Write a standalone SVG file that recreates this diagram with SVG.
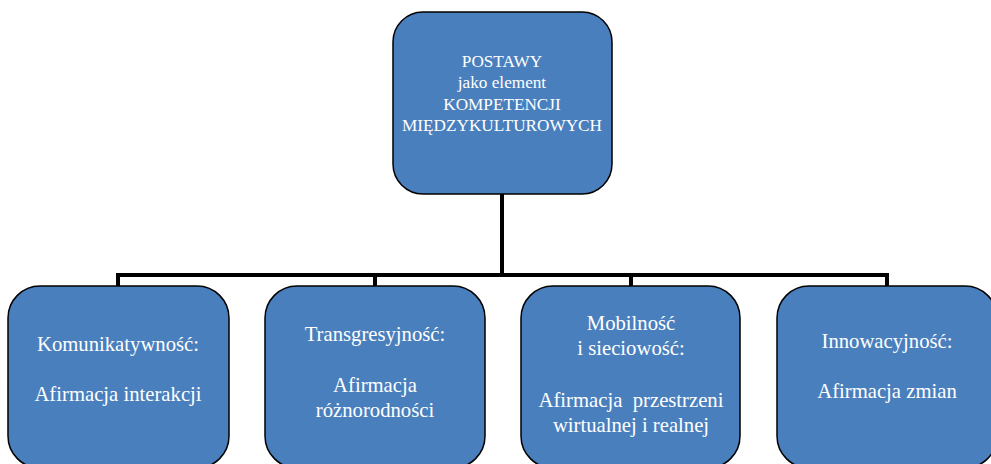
<svg xmlns="http://www.w3.org/2000/svg" width="991" height="464" viewBox="0 0 991 464">
<style>
.box{fill:#4a7fbd;stroke:#000;stroke-width:1.5}
.t{font-family:"Liberation Serif","Times New Roman",serif;fill:#fff;text-anchor:middle;font-size:20.7px}
.tt{font-size:17.2px}
.c{stroke:#000;stroke-width:4;fill:none}
</style>
<rect width="991" height="464" fill="#fff"/>
<g id="connectors">
<line class="c" x1="502" y1="194" x2="502" y2="275"/>
<line class="c" x1="116" y1="275" x2="889" y2="275"/>
<line class="c" x1="118" y1="273" x2="118" y2="287"/>
<line class="c" x1="375" y1="275" x2="375" y2="287"/>
<line class="c" x1="631" y1="275" x2="631" y2="287"/>
<line class="c" x1="887" y1="273" x2="887" y2="287"/>
</g>
<g id="top">
<rect class="box" x="393" y="12" width="219" height="182" rx="30"/>
<text class="t tt" x="502" y="67">POSTAWY</text>
<text class="t tt" x="502" y="88">jako element</text>
<text class="t tt" x="502" y="110">KOMPETENCJI</text>
<text class="t tt" x="502" y="131">MIĘDZYKULTUROWYCH</text>
</g>
<g id="n1">
<rect class="box" x="8" y="286" width="221" height="182" rx="32"/>
<text class="t" x="118" y="351">Komunikatywność:</text>
<text class="t" x="118" y="401">Afirmacja interakcji</text>
</g>
<g id="n2">
<rect class="box" x="265" y="286" width="220" height="182" rx="32"/>
<text class="t" x="375" y="341">Transgresyjność:</text>
<text class="t" x="375" y="392">Afirmacja</text>
<text class="t" x="375" y="417">różnorodności</text>
</g>
<g id="n3">
<rect class="box" x="521" y="286" width="219" height="182" rx="32"/>
<text class="t" x="631" y="330">Mobilność</text>
<text class="t" x="631" y="355">i sieciowość:</text>
<text class="t" x="631" y="407" xml:space="preserve">Afirmacja  przestrzeni</text>
<text class="t" x="631" y="432">wirtualnej i realnej</text>
</g>
<g id="n4">
<rect class="box" x="777" y="286" width="220" height="182" rx="32"/>
<text class="t" x="887" y="348">Innowacyjność:</text>
<text class="t" x="887" y="398">Afirmacja zmian</text>
</g>
</svg>
